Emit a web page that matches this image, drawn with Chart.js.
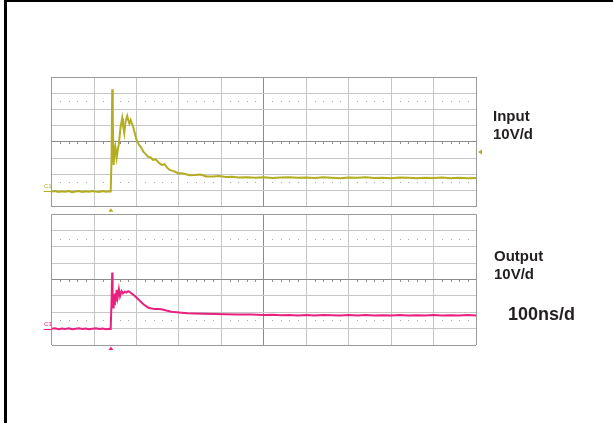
<!DOCTYPE html>
<html>
<head>
<meta charset="utf-8">
<script src="https://cdn.jsdelivr.net/npm/chart.js@4.4.1/dist/chart.umd.min.js"></script>
<style>
  html, body { margin:0; padding:0; background:#fff; }
  body { width:613px; height:423px; position:relative; overflow:hidden; font-family:"Liberation Sans", Arial, sans-serif; }
  #frame { position:absolute; left:4px; top:0; width:609px; height:423px; border-left:3px solid #000; border-top:2px solid #000; box-sizing:border-box; }
  .wrap { position:absolute; left:30px; width:470px; height:150px; }
  #w1 { top:67px; }
  #w2 { top:204px; }
  .lbl { position:absolute; font-weight:bold; color:#231f20; white-space:nowrap; }
  .ch { position:absolute; font-size:6px; line-height:6px; }
</style>
</head>
<body>
<div id="frame"></div>
<div class="wrap" id="w1"><canvas id="c1"></canvas></div>
<div class="wrap" id="w2"><canvas id="c2"></canvas></div>
<div class="lbl" style="left:493px; top:106.5px; font-size:15px; line-height:18px;">Input<br>10V/d</div>
<div class="lbl" style="left:494px; top:246.5px; font-size:15px; line-height:18px;">Output<br>10V/d</div>
<div class="lbl" style="left:508px; top:304.5px; font-size:18px; line-height:18px;">100ns/d</div>
<div class="ch" style="left:44px; top:183px; color:#b3ad1f;">C1</div>
<div class="ch" style="left:44px; top:321px; color:#e8207e;">C3</div>
<script>
// ---- data (time in ns, 100 ns/div; amplitude in V, 10 V/div) ----
const timeTicks = [0,100,200,300,400,500,600,700,800,900,1000];
const voltTicks = [-40,-30,-20,-10,0,10,20,30,40];

const inputTime = [0,8,16,24,32,40,48,56,64,72,80,88,96,104,112,120,128,136,
  139,141,142.6,144,146,148,150,153,156,158,162,166,168,171,174,178,181,183,186,188,
  192,196,200,205,210,216,221,227,233,239,245,252,259,266,272,278,285,292,299,306,
  315,324,337,350,365,380,395,410,425,440,460,480,500,520,540,560,580,600,620,640,
  660,680,700,720,740,760,780,800,820,840,860,880,900,920,940,960,980,1000];
const inputVolts = [-30.7,-30.3,-30.9,-30.5,-30.8,-30.4,-31.0,-30.6,-30.3,-30.9,-30.5,-30.8,-30.4,-30.7,-30.9,-30.4,-30.8,-30.5,
  -30.6,-12,32.5,14,-14.2,-6,-2.9,-9.9,-4.5,-1.9,8.5,14.6,10.2,5.4,12.5,16.0,12.8,11.2,13.4,11.9,
  9.5,5.2,1.2,-1.5,-3.2,-6.0,-7.4,-9.1,-9.6,-11.1,-10.8,-12.7,-14.2,-13.8,-15.9,-17.3,-17.9,-18.6,-19.5,-19.3,
  -19.8,-20.6,-20.4,-20.1,-21.3,-21.4,-21.0,-21.7,-21.5,-22.0,-21.8,-22.1,-21.9,-22.3,-22.0,-21.8,-22.2,-22.0,-22.3,-21.9,
  -22.1,-22.4,-22.0,-22.2,-21.9,-22.3,-22.1,-22.4,-22.0,-22.2,-22.5,-22.1,-22.3,-22.0,-22.4,-22.2,-22.5,-22.3];

const outputTime = [0,8,16,24,32,40,48,56,64,72,80,88,96,104,112,120,128,136,
  139,141,142.6,143.5,144.5,146,147.5,149,151,153,155.3,158.4,161,164.7,168,172.5,176,180.2,184.2,
  190,196,204,211.8,219,227.3,235,243,251,258.8,270,282.4,300,320,337,360,385,411.8,440,470,
  500,520,540,560,580,600,620,640,660,680,700,720,740,760,780,800,820,840,860,880,900,920,940,960,980,1000];
const outputVolts = [-30.1,-29.8,-30.3,-29.9,-30.2,-29.7,-30.3,-30.0,-29.8,-30.2,-29.9,-30.4,-30.0,-29.7,-30.2,-29.9,-30.3,-30.0,
  -30.1,-14,4.3,-8,-17.1,-9,-15.1,-8.5,-13.5,-6.2,-11,-5.9,-10.2,-7.0,-8.4,-7.3,-7.9,-7.1,-7.6,
  -8.8,-10.0,-12.0,-14.0,-15.6,-17.1,-17.6,-17.9,-18.0,-18.1,-18.9,-19.7,-20.1,-20.5,-20.7,-20.9,-21.1,-21.2,-21.4,-21.3,
  -21.6,-21.5,-21.8,-21.6,-21.9,-21.7,-21.9,-21.6,-21.8,-22.0,-21.7,-21.9,-21.6,-22.0,-21.8,-21.9,-21.7,-22.0,-21.8,-21.9,-21.7,-22.0,-21.8,-21.9,-21.7,-21.9];

const triggerTime = 139.5;
const triggerLevel = -6.2;

const YELLOW = '#b3ad1f';
const PINK = '#e8207e';

const decor = {
  id: 'decor',
  beforeDatasetsDraw(chart, args, opts) {
    const { ctx, scales: { x, y } } = chart;
    ctx.save();
    ctx.fillStyle = '#a8a8a8';
    for (const v of [25, -25]) {
      const py = Math.round(y.getPixelForValue(v));
      for (let d = 0; d < 10; d++) for (let k = 1; k < 5; k++) {
        const px = Math.round(x.getPixelForValue(d * 100 + k * 20));
        ctx.fillRect(px, py, 1, 1);
      }
    }
    const cy = Math.round(y.getPixelForValue(0));
    ctx.fillStyle = '#8c8c8c';
    for (let d = 0; d < 10; d++) for (let k = 1; k < 5; k++) {
      const px = Math.round(x.getPixelForValue(d * 100 + k * 20));
      ctx.fillRect(px, cy - 1, 1, 3);
    }
    ctx.restore();
  },
  afterDraw(chart, args, opts) {
    const { ctx, chartArea: a, scales: { x, y } } = chart;
    ctx.save();
    ctx.fillStyle = opts.color;
    ctx.strokeStyle = opts.color;
    const tx = x.getPixelForValue(triggerTime);
    ctx.beginPath();
    ctx.moveTo(tx - 2.5, a.bottom + 5);
    ctx.lineTo(tx + 2.5, a.bottom + 5);
    ctx.lineTo(tx, a.bottom + 1.5);
    ctx.closePath();
    ctx.fill();
    if (opts.level) {
      const ly = y.getPixelForValue(triggerLevel);
      ctx.beginPath();
      ctx.moveTo(a.right + 2, ly);
      ctx.lineTo(a.right + 6, ly - 2.5);
      ctx.lineTo(a.right + 6, ly + 2.5);
      ctx.closePath();
      ctx.fill();
    }
    const gy = y.getPixelForValue(opts.ground);
    ctx.lineWidth = 1;
    ctx.beginPath();
    ctx.moveTo(a.left - 8, Math.round(gy) + 0.5);
    ctx.lineTo(a.left, Math.round(gy) + 0.5);
    ctx.stroke();
    ctx.restore();
  }
};

function makeChart(id, times, volts, color, pad, decorOpts) {
  const pts = times.map((t, i) => ({ x: t, y: volts[i] }));
  return new Chart(document.getElementById(id), {
    type: 'line',
    data: { datasets: [{ data: pts, borderColor: color, borderWidth: 2, pointRadius: 0, tension: 0, fill: false }] },
    options: {
      responsive: true, maintainAspectRatio: false, animation: false,
      layout: { padding: pad },
      plugins: { legend: { display: false }, tooltip: { enabled: false }, decor: decorOpts },
      scales: {
        x: {
          type: 'linear', min: timeTicks[0], max: timeTicks[timeTicks.length - 1],
          afterBuildTicks: s => { s.ticks = timeTicks.map(v => ({ value: v })); },
          ticks: { display: false },
          border: { display: false },
          grid: { drawTicks: false, lineWidth: 1,
            color: c => (c.tick && (c.tick.value === 500)) ? '#8c8c8c' : (c.tick && (c.tick.value === 0 || c.tick.value === 1000)) ? '#9a9a9a' : '#c6c6c6' }
        },
        y: {
          type: 'linear', min: voltTicks[0], max: voltTicks[voltTicks.length - 1],
          afterBuildTicks: s => { s.ticks = voltTicks.map(v => ({ value: v })); },
          ticks: { display: false },
          border: { display: false },
          grid: { drawTicks: false, lineWidth: 1,
            color: c => (c.tick && c.tick.value === 0) ? '#8c8c8c' : (c.tick && (c.tick.value === -40 || c.tick.value === 40)) ? '#9a9a9a' : '#c6c6c6' }
        }
      }
    },
    plugins: [decor]
  });
}

makeChart('c1', inputTime, inputVolts, YELLOW, { left: 21.7, right: 24, top: 10, bottom: 10.3 }, { color: YELLOW, level: true, ground: -30.6 });
makeChart('c2', outputTime, outputVolts, PINK, { left: 21.7, right: 24, top: 10.3, bottom: 9 }, { color: PINK, level: false, ground: -30.0 });
</script>
</body>
</html>
